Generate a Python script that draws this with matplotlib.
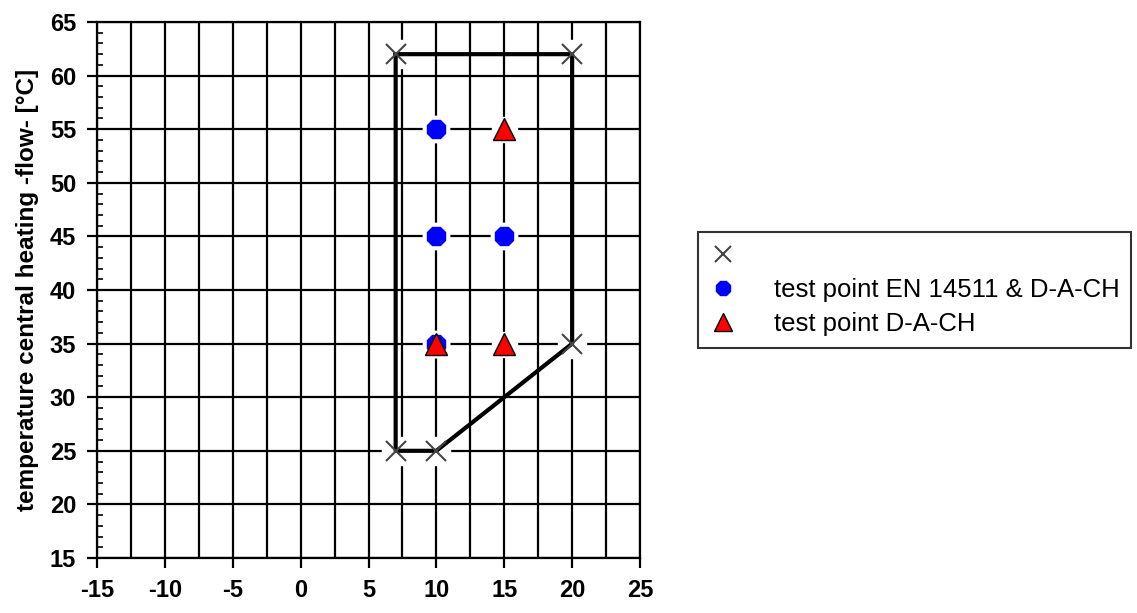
import numpy as np
import matplotlib.pyplot as plt
from matplotlib.ticker import MultipleLocator

plt.rcParams['font.family'] = ['Liberation Sans', 'DejaVu Sans']
plt.rcParams['axes.unicode_minus'] = False

# DATA
border_x = [7, 20, 20, 10, 7, 7]
border_y = [62, 62, 35, 25, 25, 62]
corner_x = [7, 20, 20, 10, 7]
corner_y = [62, 62, 35, 25, 25]
en_x = [10, 10, 15, 10]
en_y = [55, 45, 45, 35]
dach_x = [15, 10, 15]
dach_y = [55, 35, 35]

fig = plt.figure(figsize=(11.37, 6.13), dpi=100)
ax = fig.add_axes([0.0853, 0.0897, 0.4776, 0.8744])

ax.set_xlim(-15, 25)
ax.set_ylim(15, 65)
ax.xaxis.set_major_locator(MultipleLocator(5))
ax.xaxis.set_minor_locator(MultipleLocator(2.5))
ax.yaxis.set_major_locator(MultipleLocator(5))
ax.yaxis.set_minor_locator(MultipleLocator(1))
ax.grid(which='major', axis='y', color='black', lw=1.6)
ax.grid(which='both', axis='x', color='black', lw=1.6)
ax.set_axisbelow(True)
ax.tick_params(axis='x', which='minor', length=0)
ax.tick_params(axis='both', which='major', length=7, width=1.6, direction='out',
               labelsize=17, pad=8)
ax.tick_params(axis='y', which='minor', length=4, width=1.2, direction='in')
for lbl in ax.get_xticklabels() + ax.get_yticklabels():
    lbl.set_fontweight('bold')
for s in ax.spines.values():
    s.set_linewidth(1.6)
ax.set_ylabel('temperature central heating -flow- [°C]', fontsize=17.5,
              fontweight='bold', labelpad=8)

# white halos that break the grid around the markers
ax.plot(corner_x, corner_y, 's', ms=20, color='white', mec='white', zorder=2)
ax.plot(en_x, en_y, 'o', ms=19, color='white', mec='white', zorder=2)
ax.plot(dach_x, dach_y, 's', ms=18, color='white', mec='white', zorder=2)

ax.plot(border_x, border_y, '-', color='black', lw=3, zorder=3)
ax.plot(corner_x, corner_y, 'x', ms=15, mew=1.5, color='#444444', ls='none',
        label=' ', zorder=4)
ax.plot(en_x, en_y, '8', ms=14, color='blue', mec='blue', ls='none',
        label='test point EN 14511 & D-A-CH', zorder=5)
ax.plot(dach_x, dach_y, '^', ms=16, color='red', mec='black', mew=1,
        ls='none', label='test point D-A-CH', zorder=6)

leg = fig.legend(loc='upper left', bbox_to_anchor=(0.614, 0.6215), fontsize=18.5,
                 frameon=True, fancybox=False, edgecolor='black',
                 handlelength=1.0, handletextpad=1.5, borderpad=0.45,
                 labelspacing=0.4, borderaxespad=0, markerscale=0.8)
leg.get_frame().set_linewidth(1.5)

fig.savefig('out.png', dpi=100)
